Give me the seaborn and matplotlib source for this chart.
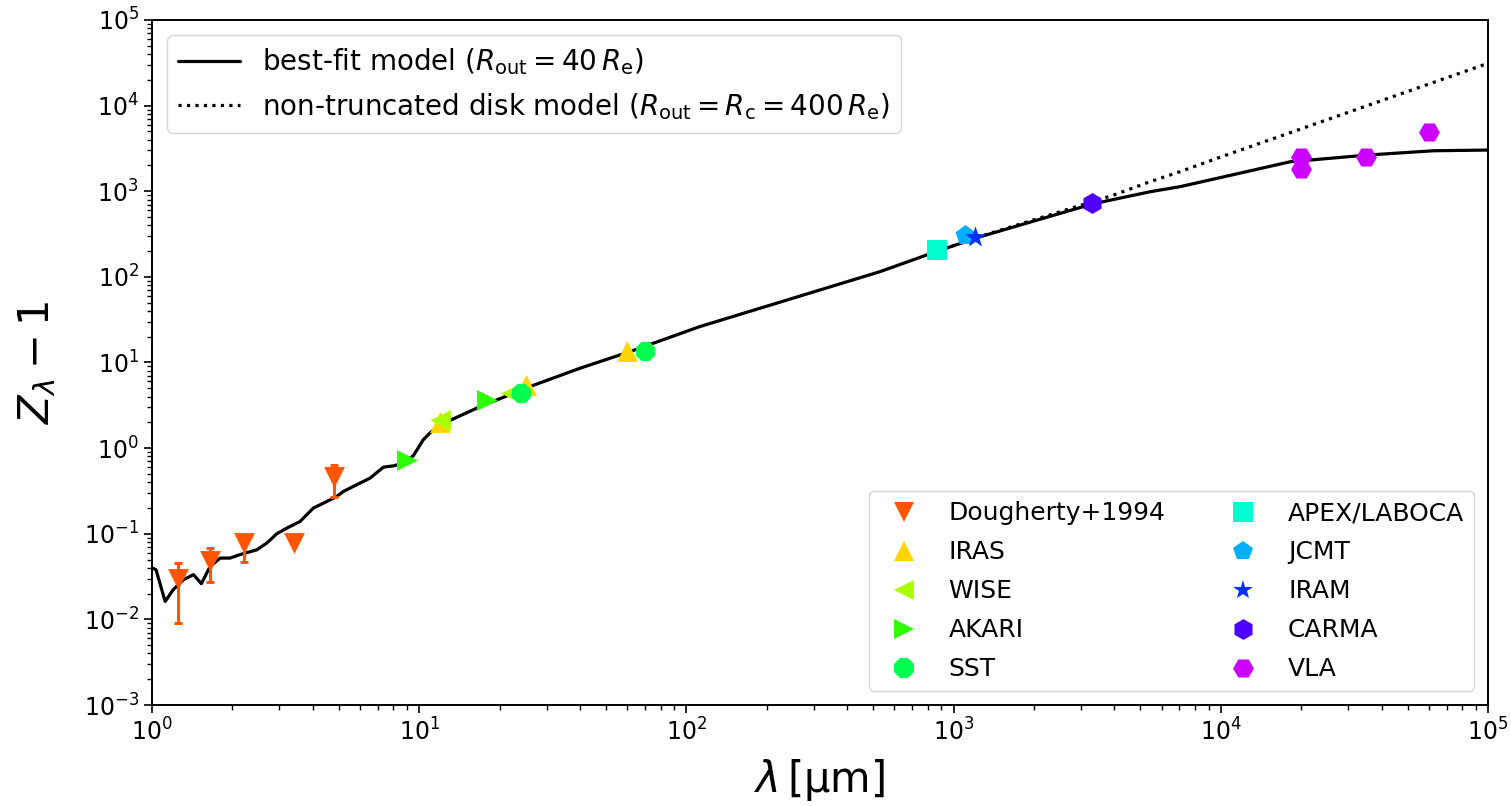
import matplotlib
matplotlib.use("Agg")
import matplotlib.pyplot as plt
import matplotlib.ticker as mticker
import seaborn as sns
import pandas as pd

# Best-fit model (R_out = 40 R_e): wavelength [um] and Z_lambda - 1
model_wavelength = [1.0, 1.035, 1.12, 1.20, 1.31, 1.43, 1.53, 1.65, 1.80, 1.96,
                    2.13, 2.47, 2.69, 2.93, 3.19, 3.58, 4.02, 4.51, 4.91, 5.20,
                    5.83, 6.55, 7.35, 8.00, 8.72, 9.50, 10.35, 10.96, 11.97, 13.0,
                    14.2, 16.9, 26.0, 40.0, 61.5, 112.0, 530.0, 859.0, 1256.0,
                    3304.0, 5430.0, 7030.0, 9660.0, 18150.0, 35150.0, 62400.0, 100000.0]
model_excess = [0.040, 0.038, 0.0162, 0.0222, 0.029, 0.0333, 0.0261, 0.0416, 0.052, 0.052,
                0.057, 0.065, 0.078, 0.100, 0.116, 0.139, 0.200, 0.238, 0.272, 0.312,
                0.373, 0.447, 0.600, 0.620, 0.668, 0.813, 1.25, 1.50, 1.87, 2.10,
                2.38, 3.05, 5.24, 8.58, 13.4, 26.2, 115.0, 197.0, 294.0,
                710.0, 986.0, 1130.0, 1413.0, 2208.0, 2642.0, 2970.0, 3027.0]

# Non-truncated disk model (R_out = R_c = 400 R_e)
full_wavelength = [859.0, 1256.0, 3963.0, 5430.0, 7030.0, 9660.0, 18150.0, 40460.0, 100000.0]
full_excess = [197.0, 296.0, 900.0, 1291.0, 1690.0, 2420.0, 4820.0, 11600.0, 31200.0]

# Observed excesses per instrument
dougherty_wl = [1.25, 1.65, 2.2, 3.4, 4.8]
dougherty_z = [0.030, 0.048, 0.077, 0.077, 0.46]
dougherty_err_lo = [0.021, 0.021, 0.030, 0.0, 0.19]
dougherty_err_hi = [0.016, 0.020, 0.020, 0.0, 0.18]

iras_wl = [12.0, 25.0, 60.0]
iras_z = [2.0, 5.4, 13.6]
wise_wl = [12.0, 22.0]
wise_z = [2.14, 4.38]
akari_wl = [9.0, 18.0]
akari_z = [0.73, 3.66]
sst_wl = [24.0, 70.0]
sst_z = [4.46, 13.8]
apex_wl = [870.0]
apex_z = [206.0]
jcmt_wl = [1100.0]
jcmt_z = [305.0]
iram_wl = [1200.0]
iram_z = [290.0]
carma_wl = [3300.0]
carma_z = [720.0]
vla_wl = [20000.0, 20000.0, 35000.0, 60000.0]
vla_z = [2530.0, 1800.0, 2490.0, 4860.0]

instrument_names = ["Dougherty+1994", "IRAS", "WISE", "AKARI", "SST",
                    "APEX/LABOCA", "JCMT", "IRAM", "CARMA", "VLA"]
instrument_wl = [dougherty_wl, iras_wl, wise_wl, akari_wl, sst_wl,
                 apex_wl, jcmt_wl, iram_wl, carma_wl, vla_wl]
instrument_z = [dougherty_z, iras_z, wise_z, akari_z, sst_z,
                apex_z, jcmt_z, iram_z, carma_z, vla_z]
instrument_markers = ["v", "^", "<", ">", "8", "s", "p", "*", "h", "H"]
instrument_colors = ["#ff5500", "#ffd400", "#aaff00", "#2dff00", "#00ff51",
                     "#00ffd0", "#00afff", "#0031ff", "#4d00ff", "#cc00ff"]

sns.set_style("ticks")
plt.rcParams.update({
    "font.family": ["DejaVu Sans"],
    "axes.edgecolor": "black",
    "axes.linewidth": 1.4,
    "xtick.color": "black",
    "ytick.color": "black",
    "xtick.major.size": 6,
    "ytick.major.size": 6,
    "xtick.minor.size": 3.5,
    "ytick.minor.size": 3.5,
    "xtick.major.width": 1.2,
    "ytick.major.width": 1.2,
    "xtick.minor.width": 1.0,
    "ytick.minor.width": 1.0,
    "text.color": "black",
    "axes.labelcolor": "black",
    "mathtext.fontset": "dejavusans",
})

fig = plt.figure(figsize=(15.11, 8.06), dpi=100)
ax = fig.add_axes([0.1006, 0.1253, 0.8842, 0.8499])

model_df = pd.DataFrame({"wl": model_wavelength, "z": model_excess})
full_df = pd.DataFrame({"wl": full_wavelength, "z": full_excess})

sns.lineplot(data=full_df, x="wl", y="z", ax=ax, color="black", lw=2.3,
             linestyle=":", sort=False, estimator=None,
             label=r"non-truncated disk model ($R_\mathrm{out} = R_\mathrm{c} = 400\,R_\mathrm{e}$)")
sns.lineplot(data=model_df, x="wl", y="z", ax=ax, color="black", lw=2.3,
             sort=False, estimator=None,
             label=r"best-fit model ($R_\mathrm{out} = 40\,R_\mathrm{e}$)")

# error bars on the near-infrared photometry
ax.errorbar(dougherty_wl, dougherty_z, yerr=[dougherty_err_lo, dougherty_err_hi],
            fmt="none", ecolor=instrument_colors[0], elinewidth=2.2, capsize=3,
            capthick=2.2, zorder=3)

point_handles = []
for name, wl, z, mk, col in zip(instrument_names, instrument_wl, instrument_z,
                                instrument_markers, instrument_colors):
    df = pd.DataFrame({"wl": wl, "z": z})
    sns.scatterplot(data=df, x="wl", y="z", ax=ax, marker=mk, color=col,
                    s=225 if mk != "*" else 260, linewidth=0, zorder=4, legend=False)
    h, = ax.plot([], [], linestyle="none", marker=mk, color=col, markersize=15,
                 markeredgewidth=0, label=name)
    point_handles.append(h)

ax.set_xscale("log")
ax.set_yscale("log")
ax.set_xlim(1, 1e5)
ax.set_ylim(1e-3, 1e5)
ax.yaxis.set_major_locator(mticker.LogLocator(base=10, numticks=20))
ax.yaxis.set_minor_locator(mticker.LogLocator(base=10, subs=range(2, 10), numticks=20))
ax.xaxis.set_major_locator(mticker.LogLocator(base=10, numticks=20))
ax.xaxis.set_minor_locator(mticker.LogLocator(base=10, subs=range(2, 10), numticks=20))
ax.tick_params(axis="both", which="major", labelsize=17)

ax.set_xlabel(r"$\lambda\,[\mathrm{\mu m}]$", fontsize=30, labelpad=8)
ax.set_ylabel(r"$Z_\lambda - 1$", fontsize=30, labelpad=18)

line_handles, line_labels = ax.get_legend_handles_labels()
order = [1, 0]
leg1 = ax.legend([line_handles[i] for i in order], [line_labels[i] for i in order],
                 loc="upper left", fontsize=20, handlelength=2.2,
                 borderaxespad=0.55, frameon=True)
leg1.get_frame().set_edgecolor("#cccccc")
ax.add_artist(leg1)

leg2 = ax.legend(handles=point_handles, loc="lower right", ncol=2, fontsize=18,
                 borderaxespad=0.55, columnspacing=2.1, labelspacing=0.6,
                 handletextpad=0.8, frameon=True)
leg2.get_frame().set_edgecolor("#cccccc")

fig.savefig("out.png", dpi=100)
